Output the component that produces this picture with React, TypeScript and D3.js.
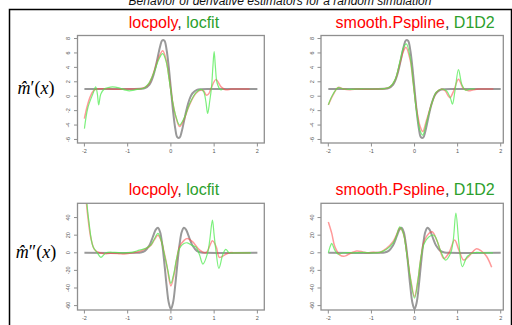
import React from "react";
import * as d3 from "d3";

type Pt = [number, number];

const title = "Behavior of derivative estimators for a random simulation";
const xTicks = [-2, -1, 0, 1, 2];
const d1Ticks = [8, 6, 4, 2, 0, -2, -4, -6];
const d2Ticks = [40, 20, 0, -20, -40, -60];

// true first derivative (gray)
const trueD1: Pt[] = [
  [-2, 1], [-1, 1], [-0.7, 1.02], [-0.6, 1.12], [-0.5, 1.59], [-0.45, 2.13], [-0.4, 2.98],
  [-0.35, 4.16], [-0.3, 5.55], [-0.25, 6.89], [-0.2, 7.75], [-0.15, 7.7], [-0.1, 6.45],
  [-0.05, 4.07], [0, 1], [0.05, -2.07], [0.1, -4.45], [0.15, -5.7], [0.2, -5.75],
  [0.25, -4.89], [0.3, -3.55], [0.35, -2.16], [0.4, -0.98], [0.45, -0.13], [0.5, 0.41],
  [0.6, 0.88], [0.7, 0.98], [1, 1], [2, 1],
];

// true second derivative (gray)
const trueD2: Pt[] = [
  [-2, 0], [-0.8, 0], [-0.7, 0.37], [-0.6, 2.12], [-0.5, 8.21], [-0.45, 13.73], [-0.4, 20.38],
  [-0.35, 26.33], [-0.3, 28.5], [-0.25, 23.55], [-0.2, 9.45], [-0.15, -12.5], [-0.1, -37.08],
  [-0.05, -56.57], [0, -64], [0.05, -56.57], [0.1, -37.08], [0.15, -12.5], [0.2, 9.45],
  [0.25, 23.55], [0.3, 28.5], [0.35, 26.33], [0.4, 20.38], [0.45, 13.73], [0.5, 8.21],
  [0.6, 2.12], [0.7, 0.37], [0.8, 0], [2, 0],
];

const locpolyD1: Pt[] = [
  [-2, -3.1], [-1.94, -1.5], [-1.88, -0.3], [-1.8, 0.7], [-1.72, 1.0], [-1.6, 1.05], [-1.4, 1.0],
  [-1.2, 0.95], [-1.0, 1.0], [-0.8, 1.0], [-0.66, 1.1], [-0.56, 1.4], [-0.5, 1.8], [-0.44, 2.6],
  [-0.38, 3.6], [-0.32, 4.7], [-0.27, 5.5], [-0.19, 6.3], [-0.11, 5.0], [-0.035, 2.25],
  [0.04, -0.75], [0.12, -3.0], [0.2, -4.2], [0.31, -3.1], [0.43, -1.2], [0.58, 0.4], [0.7, 0.85],
  [0.76, 0.7], [0.82, 0.15], [0.87, 0.3], [0.93, 1.1], [1.04, 2.3], [1.16, 1.3], [1.27, 0.9],
  [1.4, 1.0], [1.6, 1.0], [1.82, 1.0],
];

const locfitD1: Pt[] = [
  [-2, -4.5], [-1.92, -1.6], [-1.8, 0.4], [-1.74, 1.3], [-1.7, 0.3], [-1.67, -1.2], [-1.62, 0.3],
  [-1.54, 1.0], [-1.45, 1.2], [-1.35, 1.3], [-1.2, 1.15], [-1.05, 0.85], [-0.96, 0.75],
  [-0.85, 0.85], [-0.73, 1.0], [-0.62, 1.15], [-0.52, 1.7], [-0.44, 2.6], [-0.36, 3.8],
  [-0.28, 5.1], [-0.19, 5.9], [-0.11, 4.8], [-0.035, 2.1], [0.04, -0.8], [0.12, -2.9],
  [0.2, -4.0], [0.31, -3.0], [0.43, -1.1], [0.58, 0.5], [0.7, 0.95], [0.76, 0.6], [0.81, -0.8],
  [0.85, -2.4], [0.9, -0.6], [0.94, 1.3], [0.97, 4.0], [1.0, 6.2], [1.03, 4.0], [1.07, 1.8],
  [1.15, 0.9], [1.2, 1.0],
];

const psplineD1: Pt[] = [
  [-2, -1.2], [-1.94, -0.4], [-1.88, 0.3], [-1.77, 1.23], [-1.65, 1.0], [-1.5, 0.9], [-1.3, 1.0],
  [-1.1, 0.95], [-0.9, 1.0], [-0.7, 1.05], [-0.57, 1.3], [-0.45, 2.25], [-0.34, 4.55],
  [-0.26, 6.2], [-0.2, 6.8], [-0.1, 5.0], [-0.03, 1.8], [0.05, -1.9], [0.13, -4.2], [0.19, -4.9],
  [0.28, -3.3], [0.4, -1.0], [0.51, 0.55], [0.63, 1.0], [0.71, 0.75], [0.82, -0.2], [0.9, 0.6],
  [1.02, 2.35], [1.13, 1.1], [1.25, 0.75], [1.37, 0.9], [1.5, 1.0], [1.83, 1.0],
];

const d1d2D1: Pt[] = [
  [-2, -1.2], [-1.94, -0.3], [-1.88, 0.4], [-1.77, 1.2], [-1.65, 1.0], [-1.5, 0.95], [-1.3, 1.0],
  [-1.1, 1.0], [-0.9, 1.0], [-0.7, 1.05], [-0.57, 1.3], [-0.45, 2.3], [-0.34, 4.8], [-0.26, 6.7],
  [-0.19, 7.25], [-0.1, 5.3], [-0.03, 1.8], [0.05, -2.2], [0.13, -4.8], [0.19, -5.4],
  [0.28, -3.6], [0.4, -1.0], [0.51, 0.6], [0.63, 1.0], [0.74, 0.75], [0.83, -0.2], [0.88, -1.1],
  [0.94, 0.8], [1.02, 3.7], [1.1, 1.6], [1.18, 0.85], [1.3, 1.0], [1.4, 1.0],
];

const locpolyD2: Pt[] = [
  [-1.99, 80], [-1.96, 60], [-1.92, 40.7], [-1.85, 16.3], [-1.77, 3.8], [-1.7, 1], [-1.54, -1],
  [-1.4, -0.5], [-1.2, -1], [-1.08, -1.5], [-0.9, 0], [-0.73, 1.5], [-0.58, 4.7], [-0.46, 8.7],
  [-0.38, 15], [-0.3, 20], [-0.23, 14.4], [-0.15, -1], [-0.11, -10.2], [-0.07, -21.5],
  [0, -37.7], [0.07, -25.2], [0.13, -8.3], [0.2, 6.8], [0.31, 14.4], [0.38, 16.3], [0.5, 12.6],
  [0.66, 3.3], [0.81, 0], [0.9, 8], [0.96, 13.6], [1.05, 6.6], [1.12, -5.2], [1.24, -2.6],
  [1.35, 0], [1.5, 0], [1.83, 0],
];

const locfitD2: Pt[] = [
  [-1.99, 80], [-1.95, 60], [-1.9, 37], [-1.8, 6.8], [-1.7, 0], [-1.62, -5.2], [-1.5, 0],
  [-1.3, 0.5], [-1.1, 0], [-0.9, 0.5], [-0.73, 3], [-0.58, 5], [-0.46, 9], [-0.38, 16],
  [-0.3, 22], [-0.23, 15], [-0.15, -2], [-0.07, -20], [0, -34.6], [0.07, -23], [0.13, -7],
  [0.2, 5], [0.3, 10.5], [0.38, 11.3], [0.5, 8], [0.58, 6.6], [0.66, -2], [0.74, -12.8],
  [0.85, 0], [0.9, 15], [0.96, 37], [1.0, 20], [1.04, 3], [1.11, -17.7], [1.2, -2],
  [1.27, 3.8], [1.35, 0], [1.5, 0], [1.85, 0],
];

const psplineD2: Pt[] = [
  [-2, 35], [-1.92, 22], [-1.85, 7], [-1.73, -2.6], [-1.62, -3.8], [-1.46, 0], [-1.34, 2],
  [-1.2, 1], [-1.11, 0], [-0.96, 0.5], [-0.8, 0.5], [-0.65, 5], [-0.5, 12.5], [-0.42, 20],
  [-0.34, 28.3], [-0.26, 22], [-0.18, 0], [-0.1, -27], [0, -49.8], [0.08, -30.9], [0.14, -8.3],
  [0.22, 12.6], [0.33, 21.9], [0.41, 23.8], [0.53, 12.6], [0.68, -6.4], [0.8, 0], [0.93, 14.4],
  [1.03, 3], [1.14, -8.3], [1.25, -4.5], [1.35, 1], [1.44, 4.7], [1.55, 2], [1.67, -4],
  [1.79, -16.5],
];

const d1d2D2: Pt[] = [
  [-2, 0], [-1.95, 8], [-1.92, 10.6], [-1.85, 3], [-1.77, -1.5], [-1.65, 0], [-1.4, 0],
  [-1.2, 0.5], [-1.0, 0], [-0.8, 0.5], [-0.65, 4], [-0.5, 11], [-0.42, 19], [-0.34, 29.4],
  [-0.26, 22], [-0.18, -1], [-0.1, -28], [0, -51.6], [0.08, -31], [0.14, -8], [0.22, 10],
  [0.33, 18], [0.45, 20], [0.6, 3], [0.72, -8.3], [0.84, 0], [0.9, 15], [0.96, 45],
  [1.03, 10.6], [1.11, -15.8], [1.22, -4.5], [1.37, 0], [1.6, 0], [1.82, 0],
];

const RED = "#ff0000";
const GREEN = "#2ca02c";

const panels = [
  { id: "tl", box: [77.5, 264.3, 35.5, 143], xDomain: [-2.16, 2.16], yDomain: [-6.49, 8.42],
    yTicks: d1Ticks, truth: trueD1, red: locpolyD1, green: locfitD1, names: ["locpoly", "locfit"], titleY: 28 },
  { id: "tr", box: [321, 503.3, 35.5, 143], xDomain: [-2.17, 2.06], yDomain: [-6.49, 8.42],
    yTicks: d1Ticks, truth: trueD1, red: psplineD1, green: d1d2D1, names: ["smooth.Pspline", "D1D2"], titleY: 28 },
  { id: "bl", box: [77.5, 264.3, 203.3, 310], xDomain: [-2.16, 2.16], yDomain: [-65, 56.2],
    yTicks: d2Ticks, truth: trueD2, red: locpolyD2, green: locfitD2, names: ["locpoly", "locfit"], titleY: 195 },
  { id: "br", box: [321, 503.3, 203.3, 310], xDomain: [-2.17, 2.06], yDomain: [-65, 56.2],
    yTicks: d2Ticks, truth: trueD2, red: psplineD2, green: d1d2D2, names: ["smooth.Pspline", "D1D2"], titleY: 195 },
];

const Panel = ({ p }: { p: (typeof panels)[number] }) => {
  const [l, r, t, b] = p.box;
  const x = d3.scaleLinear().domain(p.xDomain).range([l, r]);
  const y = d3.scaleLinear().domain(p.yDomain).range([b, t]);
  const line = d3
    .line<Pt>()
    .x((d) => x(d[0]))
    .y((d) => y(d[1]))
    .curve(d3.curveCatmullRom.alpha(0.5));
  const clipId = `clip-${p.id}`;
  const axisCol = "#8f8f8f";
  return (
    <g>
      <clipPath id={clipId}>
        <rect x={l} y={t} width={r - l} height={b - t} />
      </clipPath>
      <text x={(l + r) / 2 + 3} y={p.titleY} textAnchor="middle" fontSize={16}
        fontFamily="Liberation Sans, Arial, sans-serif">
        <tspan fill={RED}>{p.names[0]}</tspan>
        <tspan fill="#333">, </tspan>
        <tspan fill={GREEN}>{p.names[1]}</tspan>
      </text>
      <g clipPath={`url(#${clipId})`} fill="none" strokeLinejoin="round">
        <path d={line(p.truth) ?? ""} stroke="#999" strokeWidth={2} />
        <path d={line(p.red) ?? ""} stroke="rgba(255,70,70,0.55)" strokeWidth={1.5} />
        <path d={line(p.green) ?? ""} stroke="rgba(80,235,80,0.75)" strokeWidth={1.2} />
      </g>
      <rect x={l} y={t} width={r - l} height={b - t} fill="none" stroke={axisCol} strokeWidth={1.3} />
      {xTicks.map((v) => (
        <g key={`x${v}`}>
          <line x1={x(v)} x2={x(v)} y1={b} y2={b + 3.5} stroke={axisCol} strokeWidth={1} />
          <text x={x(v)} y={b + 10} textAnchor="middle" fontSize={5.5} fill="#555"
            fontFamily="Liberation Sans, Arial, sans-serif">{v}</text>
        </g>
      ))}
      {p.yTicks.map((v) => (
        <g key={`y${v}`}>
          <line x1={l - 3.5} x2={l} y1={y(v)} y2={y(v)} stroke={axisCol} strokeWidth={1} />
          <text transform={`translate(${l - 7.5},${y(v)}) rotate(-90)`} textAnchor="middle"
            fontSize={5.5} fill="#555" fontFamily="Liberation Sans, Arial, sans-serif">{v}</text>
        </g>
      ))}
    </g>
  );
};

const RowLabel = ({ y, primes }: { y: number; primes: string }) => (
  <text x={36} y={y} textAnchor="middle" fontSize={18} fill="#000"
    fontFamily="Liberation Serif, Times New Roman, serif">
    <tspan fontStyle="italic">{"m\u0302"}</tspan>
    <tspan>{primes}(</tspan>
    <tspan fontStyle="italic">x</tspan>
    <tspan>)</tspan>
  </text>
);

export default function App() {
  return (
    <svg width={512} height={325} style={{ position: "absolute", left: 0, top: 0, background: "#fff" }}>
      <text x={280} y={4.5} textAnchor="middle" fontSize={12} fontStyle="italic" fill="#111"
        fontFamily="Liberation Sans, Arial, sans-serif">{title}</text>
      <rect x={9.5} y={9.5} width={502} height={330} fill="none" stroke="#000" strokeWidth={1.5} />
      {panels.map((p) => (
        <Panel key={p.id} p={p} />
      ))}
      <RowLabel y={94} primes={"\u2032"} />
      <RowLabel y={258} primes={"\u2033"} />
    </svg>
  );
}
